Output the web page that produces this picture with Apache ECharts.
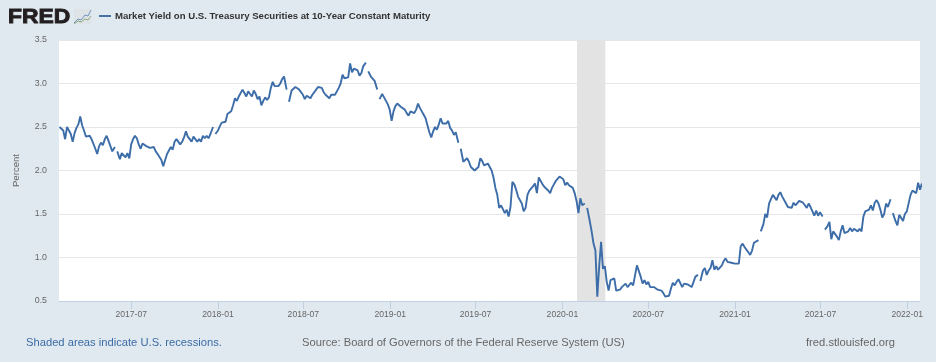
<!DOCTYPE html>
<html><head><meta charset="utf-8">
<style>html,body{margin:0;padding:0;background:#E1E9F0}#c{width:936px;height:362px}</style>
<script src="https://cdn.jsdelivr.net/npm/echarts@6/dist/echarts.min.js"></script>
</head><body><div id="c"></div>
<script>
const seriesName = 'Market Yield on U.S. Treasury Securities at 10-Year Constant Maturity';
const yAxisName = 'Percent';
const startDate = '2017-01-30';
const stepDays = 4;
const axisMin = '2017-01-29';
const axisMax = '2022-01-28';
const tickDates = ['2017-07-01','2018-01-01','2018-07-01','2019-01-01','2019-07-01','2020-01-01','2020-07-01','2021-01-01','2021-07-01','2022-01-01'];
const recession = ['2020-02-01','2020-04-01'];
const yields = [
 2.50,2.49,2.46,2.36,2.50,2.50,2.42,2.33,2.43,2.49,2.53,2.62,2.52,2.46,2.39,2.37,2.40,2.36,2.38,2.25,2.19,2.28,2.32,2.29,2.36,2.40,2.34,2.28,2.22,2.27,null,
 2.22,2.13,2.20,2.20,2.15,2.20,2.14,2.30,2.36,2.40,2.37,2.30,2.25,2.31,2.33,2.28,2.30,2.26,2.24,2.27,2.22,2.19,2.17,2.12,2.05,2.12,2.19,2.23,2.27,2.24,2.33,2.36,2.35,2.30,2.33,2.38,2.45,2.39,2.36,2.33,2.39,2.36,2.33,2.36,2.33,2.40,2.37,2.40,2.37,2.42,2.50,null,
 2.42,2.46,2.51,2.55,2.57,2.56,2.65,2.67,2.68,2.75,2.83,2.80,2.85,2.87,2.93,2.89,2.85,2.91,2.88,2.85,2.92,2.88,2.82,2.85,2.75,2.80,2.84,2.81,2.84,2.95,3.02,2.97,2.95,2.97,3.00,3.05,3.08,2.93,null,
 2.79,2.92,2.94,2.96,2.95,2.93,2.91,2.87,2.82,2.86,2.87,2.83,2.87,2.90,2.93,2.96,2.98,2.95,2.90,2.87,2.85,2.83,2.87,2.89,2.87,2.91,2.95,3.00,3.10,3.06,3.08,3.07,3.23,3.13,3.17,3.18,3.15,3.09,3.12,3.20,3.24,null,
 3.14,3.08,3.07,3.03,2.93,null,
 2.82,2.88,2.84,2.80,2.76,2.70,2.57,2.68,2.74,2.77,2.75,2.73,2.74,2.70,2.66,2.63,2.68,2.70,2.66,2.70,2.77,2.72,2.68,2.64,2.60,2.52,2.44,2.38,2.45,2.50,2.47,2.53,2.60,2.54,2.52,2.54,2.57,2.49,2.46,2.41,2.44,2.32,null,
 2.25,2.10,2.12,2.14,2.10,2.04,2.06,2.00,1.99,2.04,2.14,2.11,2.06,2.08,2.08,2.07,2.00,1.92,1.80,1.72,1.57,1.60,1.62,1.51,1.55,1.47,1.58,1.87,1.84,1.78,1.70,1.72,1.62,1.53,1.57,1.72,1.77,1.78,1.82,1.85,1.74,1.92,1.91,1.84,1.81,1.80,1.77,1.74,1.80,1.84,1.88,1.88,1.93,1.92,1.90,1.83,1.86,1.83,1.81,1.80,1.74,1.65,1.51,1.68,1.60,1.62,null,
 1.57,1.42,1.30,1.16,1.08,0.55,0.90,1.18,0.87,0.90,0.72,0.62,0.74,0.76,0.76,0.62,0.64,0.63,0.66,0.67,0.70,0.66,0.66,0.71,0.68,0.66,0.91,0.89,0.78,0.70,0.74,0.69,0.72,0.66,0.67,0.66,0.66,0.63,0.63,0.62,0.59,0.55,0.53,0.56,0.64,0.71,0.68,0.72,0.75,0.74,0.66,0.70,0.68,0.69,0.68,0.66,0.72,0.78,0.80,null,
 0.73,0.85,0.88,0.80,0.85,0.88,0.97,0.86,0.90,0.86,0.87,0.91,0.96,0.99,0.95,0.93,0.94,0.95,0.93,0.93,0.93,1.13,1.16,1.12,1.09,1.06,1.03,1.08,1.17,1.15,1.20,null,
 1.30,1.38,1.50,1.46,1.62,1.64,1.72,1.74,1.66,1.72,1.75,1.70,1.68,1.62,1.58,1.58,1.57,1.63,1.60,1.60,1.65,1.64,1.63,1.60,1.57,1.62,1.58,1.53,1.48,1.54,1.48,1.52,1.47,null,
 1.32,1.36,1.41,1.21,1.30,1.28,1.24,1.20,1.30,1.37,1.28,1.28,1.30,1.34,1.30,1.33,1.35,1.30,1.33,1.30,1.47,1.53,1.51,1.55,1.60,1.54,1.63,1.66,1.62,1.55,1.46,1.50,1.62,1.58,1.67,null,
 1.51,1.42,1.37,1.49,1.47,1.42,1.50,1.53,1.55,1.72,1.77,1.76,1.74,1.86,1.78,1.85
];
const ms = s => Date.parse(s + 'T00:00:00Z');
const dayMs = 86400000;
const lineColor = '#3d6da8';
const textGray = '#666666';
const fontFamily = '"Liberation Sans", Arial, sans-serif';
// Missing days are short: the readings beside each gap sit closer to it than the regular step.
const gapEdgeDays = i => (yields[i + 1] === null ? 1.5 : (yields[i - 1] === null ? -1.5 : 0));
const points = yields.map((v, i) => [ms(startDate) + (i * stepDays + gapEdgeDays(i)) * dayMs, v]);
const tickValues = tickDates.map(ms);

const chart = echarts.init(document.getElementById('c'), null, {renderer: 'canvas'});
chart.setOption({
  animation: false,
  backgroundColor: '#E1E9F0',
  grid: {show: true, left: 59, right: 16, top: 40, bottom: 61, backgroundColor: '#FFFFFF', borderWidth: 0},
  xAxis: {
    type: 'value', min: ms(axisMin), max: ms(axisMax), scale: true,
    axisLine: {show: true, onZero: false, lineStyle: {color: '#C0D0E0', width: 1}},
    axisTick: {show: true, length: 8, lineStyle: {color: '#C0D0E0'}, customValues: tickValues},
    axisLabel: {
      color: textGray, fontSize: 8.6, fontFamily, margin: 9, hideOverlap: false,
      customValues: tickValues,
      formatter: v => { const d = new Date(v); return d.getUTCFullYear() + '-' + String(d.getUTCMonth() + 1).padStart(2, '0'); }
    },
    splitLine: {show: false}
  },
  yAxis: {
    type: 'value', min: 0.5, max: 3.5, interval: 0.5,
    name: yAxisName, nameLocation: 'middle', nameGap: 38,
    nameTextStyle: {color: textGray, fontSize: 9.6, fontFamily},
    axisLine: {show: false}, axisTick: {show: false},
    axisLabel: {color: textGray, fontSize: 8.8, fontFamily, margin: 12, formatter: v => v.toFixed(1)},
    splitLine: {lineStyle: {color: '#E6E6E6', width: 1}}
  },
  series: [{
    name: seriesName, type: 'line', data: points, showSymbol: false, connectNulls: false,
    lineStyle: {color: lineColor, width: 1.9}, itemStyle: {color: lineColor},
    markArea: {silent: true, itemStyle: {color: '#E3E3E3'}, data: [[{xAxis: ms(recession[0])}, {xAxis: ms(recession[1])}]]},
    z: 3
  }],
  graphic: [
    {type: 'text', x: 8, y: 7, scaleX: 1.09, style: {text: 'FRED', fontFamily, fontWeight: 'bold', fontSize: 21, fill: '#231F20', stroke: '#231F20', lineWidth: 0.9}},
    {type: 'rect', shape: {x: 74, y: 9, width: 17, height: 15}, style: {fill: '#DDE3E6'}},
    {type: 'polyline', shape: {points: [[74,23],[78,19],[81,20],[85,15],[88,16],[91,10]]}, style: {stroke: '#6E93BE', fill: null, lineWidth: 1}},
    {type: 'polyline', shape: {points: [[74,24],[78,21],[81,22],[85,19],[88,20],[91,16]]}, style: {stroke: '#8DAA7C', fill: null, lineWidth: 1}},
    {type: 'line', shape: {x1: 99, y1: 16, x2: 111, y2: 16}, style: {stroke: '#4572A7', lineWidth: 2}},
    {type: 'text', left: 115, top: 11, style: {text: seriesName, fontFamily, fontWeight: 'bold', fontSize: 9.6, fill: '#333333'}},
    {type: 'text', left: 26, top: 337, style: {text: 'Shaded areas indicate U.S. recessions.', fontFamily, fontSize: 11.2, fill: '#3A6BA5'}},
    {type: 'text', left: 302, top: 337, style: {text: 'Source: Board of Governors of the Federal Reserve System (US)', fontFamily, fontSize: 11.2, fill: textGray}},
    {type: 'text', left: 806, top: 337, style: {text: 'fred.stlouisfed.org', fontFamily, fontSize: 11.2, fill: textGray}}
  ]
});
</script></body></html>
